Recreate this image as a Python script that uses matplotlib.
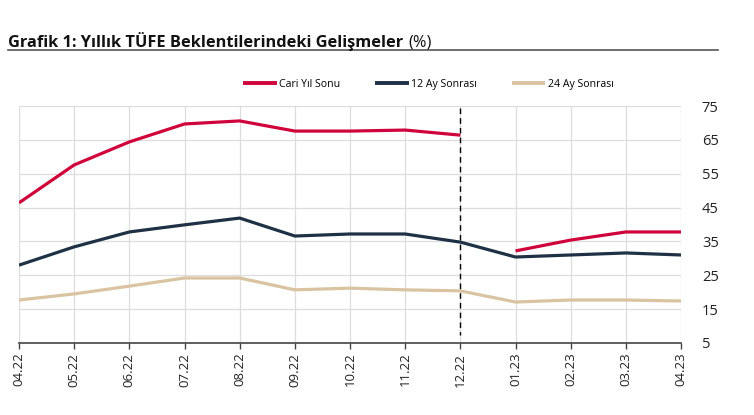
import matplotlib
matplotlib.use("Agg")
import matplotlib.pyplot as plt

plt.rcParams['font.family'] = ['Open Sans', 'DejaVu Sans']

months = ["04.22", "05.22", "06.22", "07.22", "08.22", "09.22", "10.22",
          "11.22", "12.22", "01.23", "02.23", "03.23", "04.23"]
cari_2022 = [46.4, 57.6, 64.4, 69.7, 70.6, 67.6, 67.6, 67.9, 66.4]
cari_2023 = [32.2, 35.4, 37.8, 37.8]
ay12 = [28.0, 33.4, 37.8, 39.9, 41.9, 36.6, 37.2, 37.2, 34.8, 30.4, 31.0, 31.6, 31.0]
ay24 = [17.7, 19.5, 21.8, 24.2, 24.2, 20.7, 21.2, 20.7, 20.4, 17.1, 17.7, 17.7, 17.4]
yticks = [5, 15, 25, 35, 45, 55, 65, 75]

red = "#D0043C"
navy = "#1F3144"
beige = "#D9C3A0"

fig = plt.figure(figsize=(7.54, 4.15), dpi=100)
ax = fig.add_axes([0.0252, 0.1735, 0.878, 0.571])

x = list(range(len(months)))
lw = 2.3
ax.plot(x[:9], cari_2022, color=red, lw=lw, label="Cari Yıl Sonu", solid_capstyle="butt", zorder=3)
ax.plot(x[9:], cari_2023, color=red, lw=lw, solid_capstyle="butt", zorder=3)
ax.plot(x, ay12, color=navy, lw=lw, label="12 Ay Sonrası", solid_capstyle="butt", zorder=3)
ax.plot(x, ay24, color=beige, lw=lw, label="24 Ay Sonrası", solid_capstyle="butt", zorder=3)

ax.plot([8, 8], [74.5, 7.5], color="black", lw=1.0, ls=(0, (4, 3)), zorder=4)

ax.set_xlim(0, len(months) - 1)
ax.set_ylim(5, 75)
ax.set_xticks(x)
ax.set_xticklabels(months, rotation=90, fontsize=9.5, color="#222222")
ax.set_yticks(yticks)
ax.yaxis.tick_right()
ax.tick_params(axis="y", length=0, pad=15, labelsize=10.5, labelcolor="#222222")
ax.tick_params(axis="x", length=4, width=1, color="#444444", pad=3)
ax.grid(True, color="#DDDDDD", lw=0.9, zorder=0)
for s in ["top", "right", "left"]:
    ax.spines[s].set_visible(False)
ax.spines["bottom"].set_color("#444444")
ax.spines["bottom"].set_linewidth(1.2)
for lab in ax.get_yticklabels():
    lab.set_horizontalalignment("left")

leg = fig.legend(loc="center", bbox_to_anchor=(0.568, 0.797), ncol=3, frameon=False,
                 fontsize=7.6, handlelength=3.2, handletextpad=0.2, columnspacing=3.3)
for line in leg.get_lines():
    line.set_linewidth(2.8)

t1 = fig.text(0.011, 0.887, "Grafik 1: Yıllık TÜFE Beklentilerindeki Gelişmeler",
              fontsize=11.8, fontweight="bold", color="#111111", va="baseline")
fig.canvas.draw()
bb = t1.get_window_extent()
fig.text((bb.x1 + 5) / fig.dpi / 7.54, 0.887, "(%)", fontsize=11.8, color="#111111", va="baseline")

fig.add_artist(plt.Line2D([0.011, 0.952], [0.879, 0.879], color="#555555", lw=1.2))

fig.savefig("out.png", dpi=100)
